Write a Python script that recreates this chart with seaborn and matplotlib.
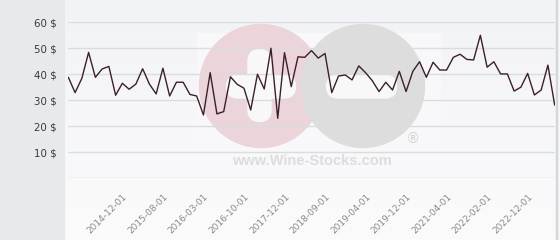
import numpy as np
import pandas as pd
import matplotlib
matplotlib.use("Agg")
import matplotlib.pyplot as plt
from matplotlib.patches import Circle, FancyBboxPatch, Rectangle
from matplotlib.colors import LinearSegmentedColormap
import seaborn as sns

# ---- data ----
prices = [38.8, 32.9, 38.4, 48.4, 38.8, 42.0, 43.0, 31.9, 36.5, 34.2,
          36.2, 42.1, 36.2, 32.4, 42.3, 31.6, 36.9, 36.9, 32.2, 31.6,
          24.3, 40.6, 24.7, 25.6, 39.0, 36.1, 34.6, 26.2, 40.0, 34.3,
          50.0, 23.0, 48.3, 35.2, 46.7, 46.5, 49.1, 46.2, 48.0, 32.9,
          39.3, 39.7, 37.8, 43.2, 40.6, 37.5, 33.3, 36.9, 33.9, 41.1,
          33.3, 41.1, 44.8, 38.8, 44.6, 41.6, 41.6, 46.5, 47.7, 45.7,
          45.5, 55.0, 42.7, 44.8, 40.1, 40.1, 33.5, 35.0, 40.3, 32.0,
          33.9, 43.5, 28.1]
tick_labels = ["2014-12-01", "2015-08-01", "2016-03-01", "2016-10-01",
               "2017-12-01", "2018-09-01", "2019-04-01", "2019-12-01",
               "2021-04-01", "2022-02-01", "2022-12-01"]
y_ticks = [0, 10, 20, 30, 40, 50, 60]

df = pd.DataFrame({"idx": np.arange(len(prices)), "price": prices})

sns.set_style("white")
W, H = 560, 240
fig = plt.figure(figsize=(W / 100, H / 100), dpi=100)
fig.patch.set_facecolor("#f6f7f9")

# background axes in pixel coordinates
bg = fig.add_axes([0, 0, 1, 1], zorder=0)
bg.set_xlim(0, W)
bg.set_ylim(H, 0)
bg.axis("off")
grad = np.linspace(0, 1, 100).reshape(-1, 1)
cm = LinearSegmentedColormap.from_list("g", ["#f2f3f6", "#fbfbfc"])
bg.imshow(grad, cmap=cm, extent=[63, 557, H, 0], aspect="auto", zorder=0)
bg.add_patch(Rectangle((0, 0), 63.5, H, color="#e6eaed", zorder=1))
bg.add_patch(Rectangle((556, 0), 1, H, color="#d4d6d9", zorder=1))
# watermark
bg.add_patch(Rectangle((197, 33), 243, 140, color="#f8f8fa", zorder=1))
bg.add_patch(Circle((261, 86), 61.5, color="#ebd4da", zorder=2))
bg.add_patch(Circle((363, 86), 61.5, color="#dddddd", zorder=2))
for (x0, y0, w, h) in [(215, 75, 92, 23), (315, 75, 93, 23), (248, 38, 23, 95)]:
    bg.add_patch(FancyBboxPatch((x0 + 11.5 if w > h else x0, y0 if w > h else y0 + 11.5),
                                (w - 23) if w > h else w, h if w > h else (h - 23),
                                boxstyle="round,pad=0,rounding_size=11.5",
                                color="#f8f8f9", zorder=3))
bg.text(312, 161, "www.Wine-Stocks.com", ha="center", va="center",
        fontsize=10.5, fontweight="bold", color="#dddddd",
        family="Liberation Sans", zorder=4)
bg.text(413, 139, "®", ha="center", va="center", fontsize=10,
        color="#d0d0d0", family="Liberation Sans", zorder=4)

ax = fig.add_axes([68 / W, 1 - 178 / H, (555 - 68) / W, (178 - 22.3) / H], zorder=2)
ax.set_facecolor("none")
sns.lineplot(data=df, x="idx", y="price", ax=ax, color="#3b1f2c", linewidth=1.0)
ax.set_xlim(-0.05, len(prices) - 1 + 0.05)
ax.set_ylim(0, 60)
ax.set_yticks(y_ticks)
ax.set_yticklabels(["" if v == 0 else f"{v} $" for v in y_ticks],
                   fontsize=7.4, color="#3a3a3a")
ax.grid(axis="y", color="#dcdcdc", linewidth=1)
ax.grid(axis="x", visible=False)
ax.set_axisbelow(True)
pos = list(range(9, len(prices), 6))[:len(tick_labels)]
ax.set_xticks(pos)
ax.set_xticklabels(tick_labels, rotation=45, ha="right", va="top",
                   fontsize=6.5, color="#8a8a8a")
ax.tick_params(axis="x", length=0, pad=10)
ax.tick_params(axis="y", length=0, pad=8)
for s in ax.spines.values():
    s.set_visible(False)
ax.set_xlabel("")
ax.set_ylabel("")

fig.savefig("out.png", dpi=100)
